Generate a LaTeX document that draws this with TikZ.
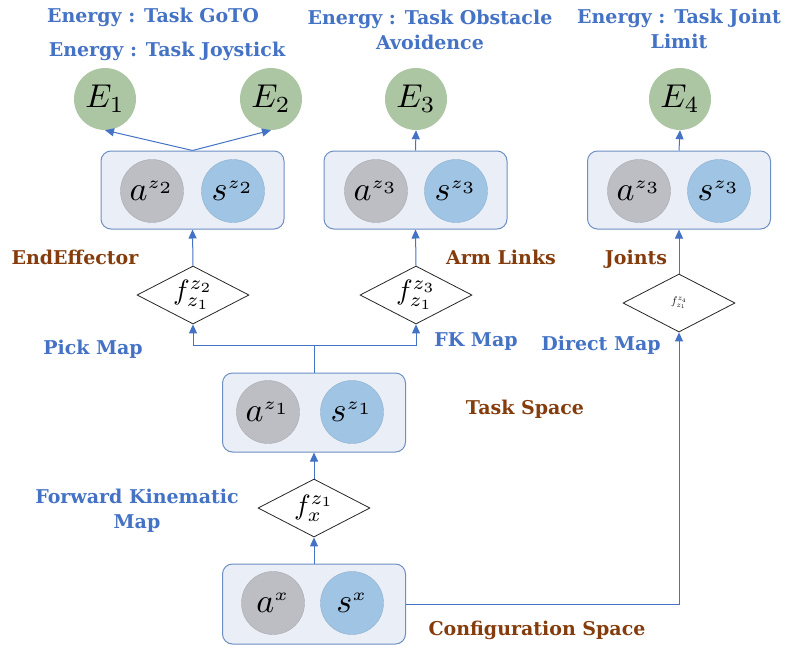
\documentclass[tikz,border=0pt]{standalone}
\usepackage{graphicx}
\usepackage{fontspec}
\newfontfamily\labfont{DejaVu Serif}
\usetikzlibrary{shapes.geometric,arrows.meta}
\definecolor{tblue}{RGB}{68,114,196}
\definecolor{tbrown}{RGB}{132,60,12}
\definecolor{boxfill}{RGB}{233,238,247}
\definecolor{boxdraw}{RGB}{110,143,196}
\definecolor{agray}{RGB}{188,190,196}
\definecolor{sblue}{RGB}{160,196,228}
\definecolor{egreen}{RGB}{172,198,164}
\newcommand{\mscale}[2]{\scalebox{#1}{$#2$}}
\begin{document}
\begin{tikzpicture}[x=1pt,y=-1pt,
  grp/.style={draw=boxdraw,fill=boxfill,rounded corners=10pt,line width=1pt,minimum width=183pt,minimum height=78pt,inner sep=0pt},
  acirc/.style={circle,fill=agray,draw=agray!90!black,line width=0.4pt,minimum size=63pt,inner sep=0pt},
  scirc/.style={circle,fill=sblue,draw=sblue!90!black,line width=0.4pt,minimum size=63pt,inner sep=0pt},
  ecirc/.style={circle,fill=egreen,minimum size=62pt,inner sep=0pt},
  mapd/.style={diamond,draw=black!85,line width=0.8pt,aspect=1.93,minimum width=112pt,minimum height=58pt,inner sep=0pt},
  lblue/.style={text=tblue,font=\labfont\bfseries\fontsize{19}{25}\selectfont,inner sep=0pt},
  lbrown/.style={text=tbrown,font=\labfont\bfseries\fontsize{19}{25}\selectfont,inner sep=0pt},
  conn/.style={draw=tblue,line width=1pt},
  arr/.style={conn,-{Triangle[length=9pt,width=8pt]}}
]
\useasboundingbox (0,0) rectangle (786,651);

% titles
\node[lblue] (t1) at (153,17) {Energy : Task GoTO};
\node[lblue] (t2) at (167,51) {Energy : Task Joystick};
\node[lblue,align=center] (t3) at (430,30) {Energy : Task Obstacle\\Avoidence};
\node[lblue,align=center] (t4) at (679,29) {Energy : Task Joint\\Limit};

% energies
\node[ecirc] (E1) at (105,99) {\mscale{3.3}{E_1}};
\node[ecirc] (E2) at (271,99) {\mscale{3.3}{E_2}};
\node[ecirc] (E3) at (416,99) {\mscale{3.3}{E_3}};
\node[ecirc] (E4) at (680,99) {\mscale{3.3}{E_4}};

% group boxes
\node[grp] (g1) at (192.5,190) {};
\node[acirc] (a2) at (152,191) {\mscale{3.4}{a^{\scriptscriptstyle z_2}}};
\node[scirc] (s2) at (233,191) {\mscale{3.4}{s^{\scriptscriptstyle z_2}}};
\node[grp] (g2) at (415.5,190) {};
\node[acirc] (a3) at (376,191) {\mscale{3.4}{a^{\scriptscriptstyle z_3}}};
\node[scirc] (s3) at (456,191) {\mscale{3.4}{s^{\scriptscriptstyle z_3}}};
\node[grp] (g3) at (679,190) {};
\node[acirc] (a4) at (639,191) {\mscale{3.4}{a^{\scriptscriptstyle z_3}}};
\node[scirc] (s4) at (719,191) {\mscale{3.4}{s^{\scriptscriptstyle z_3}}};

\node[grp,minimum height=79pt] (tb) at (314,412.5) {};
\node[acirc] (a1) at (268,412) {\mscale{3.4}{a^{\scriptscriptstyle z_1}}};
\node[scirc] (s1) at (352,412) {\mscale{3.4}{s^{\scriptscriptstyle z_1}}};

\node[grp,minimum height=80pt] (cb) at (314,604) {};
\node[acirc] (ax) at (273,603) {\mscale{3.4}{a^{\scriptscriptstyle x}}};
\node[scirc] (sx) at (352,603) {\mscale{3.4}{s^{\scriptscriptstyle x}}};

% maps
\node[mapd] (d2) at (193,295) {\mscale{2.8}{f^{z_2}_{z_1}}};
\node[mapd] (d3) at (416,295) {\mscale{2.8}{f^{z_3}_{z_1}}};
\node[mapd] (d4) at (679,303) {\mscale{1.1}{f^{z_4}_{z_1}}};
\node[mapd] (dx) at (314,508) {\mscale{2.8}{f^{z_1}_{x}}};

% labels
\node[lbrown] (l1) at (75,257) {EndEffector};
\node[lblue] (l2) at (93,349) {Pick Map};
\node[lbrown] (l3) at (501,257) {Arm Links};
\node[lblue] (l4) at (476,342) {FK Map};
\node[lbrown] (l5) at (636,259) {Joints};
\node[lblue] (l6) at (601,345) {Direct Map};
\node[lbrown] (l7) at (525,409) {Task Space};
\node[lblue,align=center] (l8) at (137,511) {Forward Kinematic\\Map};
\node[lbrown] (l9) at (537,630) {Configuration Space};

% connectors
\draw[arr] (g1.north) -- (E1.south);
\draw[arr] (g1.north) -- (E2.south);
\draw[arr] (g2.north) -- (E3.south);
\draw[arr] (g3.north) -- (E4.south);
\draw[arr] (d2.north) -- (g1.south);
\draw[arr] (d3.north) -- (g2.south);
\draw[arr] (d4.north) -- (g3.south);
\coordinate (split) at (314,345);
\draw[conn] (tb.north) -- (split);
\draw[arr] (split) -| (d2.south);
\draw[arr] (split) -| (d3.south);
\draw[arr] (dx.north) -- (tb.south);
\draw[arr] (cb.north) -- (dx.south);
\draw[arr] (cb.east) -| (d4.south);
\end{tikzpicture}
\end{document}
